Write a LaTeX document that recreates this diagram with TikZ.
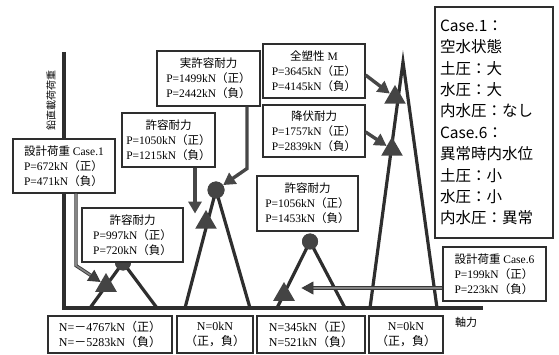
\documentclass[tikz,border=0pt]{standalone}
\usepackage{fontspec}
\setmainfont{Liberation Serif}
\newfontfamily\jp{Noto Sans CJK JP}
\newcommand\zj[1]{{\jp #1}}
\usetikzlibrary{shapes.geometric,arrows.meta}
\definecolor{ink}{HTML}{2E2E2E}
\definecolor{mark}{HTML}{444444}
\begin{document}
\begin{tikzpicture}[x=1pt,y=-1pt,
  box/.style={draw=ink,line width=1.1pt,fill=white,inner sep=1pt,
    font=\fontsize{11.5}{15}\selectfont,align=center},
  nbox/.style={box,font=\fontsize{12}{15.5}\selectfont},
  axis/.style={draw=ink,line width=4pt},
  peak/.style={draw=ink,line width=3.2pt},
  tri/.style={regular polygon,regular polygon sides=3,fill=mark,draw=none,
    minimum size=25pt,inner sep=0pt},
  dot/.style={circle,fill=mark,draw=none,inner sep=0pt,minimum size=16pt},
  arr/.style={draw=black!72,line width=3.4pt,
    -{Triangle[length=12pt,width=13pt]}},
  darr/.style={draw=black!78,line width=0.9pt,double=black!48,double distance=1.6pt,
    -{Triangle[length=12pt,width=13pt,fill=black!75]}}
]
\useasboundingbox (0,0) rectangle (559,355);

% axes
\coordinate (o) at (64,308);
\coordinate (ytop) at (64,52);
\coordinate (xend) at (483,308);
\draw[axis] (ytop) -- (o) -- (xend);
\node[rotate=90,font=\jp\fontsize{10}{12}\selectfont,inner sep=0pt] (ylab) at (51,101) {鉛直載荷荷重};
\node[font=\jp\fontsize{11}{13}\selectfont,inner sep=0pt] (xlab) at (466,322) {軸力};

% peaks
\coordinate (p1l) at (90,308);  \coordinate (p1r) at (157,308);
\coordinate (p2l) at (185,308); \coordinate (p2r) at (250,308);
\coordinate (p3l) at (277,308); \coordinate (p3r) at (345,308);
\coordinate (p4l) at (370,308); \coordinate (p4r) at (437,308);
\coordinate (a4) at (403,62);
\node[dot,minimum size=16pt] (c1) at (123,262.5) {};
\node[dot,minimum size=17pt] (c2) at (216,190) {};
\node[dot,minimum size=16pt] (c3) at (310,241.5) {};
\draw[peak] (p1l) -- (c1.center) -- (p1r);
\draw[peak] (p2l) -- (c2.center) -- (p2r);
\draw[peak] (p3l) -- (c3.center) -- (p3r);
\draw[peak,line join=miter] (p4l) -- (a4) -- (p4r);
\node[dot,minimum size=16pt] at (c1) {};
\node[dot,minimum size=17pt] at (c2) {};
\node[dot,minimum size=16pt] at (c3) {};

% triangle markers
\node[tri] (t1) at (106,285.5) {};
\node[tri] (t2) at (206,222.5) {};
\node[tri] (t3) at (284,294.5) {};
\node[tri] (t4) at (395,97.5) {};
\node[tri] (t5) at (392,149.5) {};

% boxes
\node[box,align=left,minimum width=102pt,minimum height=54pt] (b1) at (64,166)
  {\zj{設計荷重} Case.1\\P=672kN\zj{（正）}\\P=471kN\zj{（負）}};
\node[box,minimum width=101pt,minimum height=54pt] (b2) at (132.5,235)
  {\zj{許容耐力}\\P=997kN\zj{（正）}\\P=720kN\zj{（負）}};
\node[box,minimum width=93pt,minimum height=54pt] (b3) at (168.5,140)
  {\zj{許容耐力}\\P=1050kN\zj{（正）}\\P=1215kN\zj{（負）}};
\node[box,minimum width=103pt,minimum height=55pt] (b4) at (208.5,78.5)
  {\zj{実許容耐力}\\P=1499kN\zj{（正）}\\P=2442kN\zj{（負）}};
\node[box,minimum width=102pt,minimum height=54pt] (b5) at (314,71)
  {\zj{全塑性} M\\P=3645kN\zj{（正）}\\P=4145kN\zj{（負）}};
\node[box,minimum width=102pt,minimum height=52pt] (b6) at (314,131)
  {\zj{降伏耐力}\\P=1757kN\zj{（正）}\\P=2839kN\zj{（負）}};
\node[box,minimum width=101pt,minimum height=55pt] (b7) at (307.5,203.5)
  {\zj{許容耐力}\\P=1056kN\zj{（正）}\\P=1453kN\zj{（負）}};
\node[box,align=left,minimum width=103pt,minimum height=54pt] (b8) at (494.5,274)
  {\zj{設計荷重} Case.6\\P=199kN\zj{（正）}\\P=223kN\zj{（負）}};

% legend
\node[box,align=left,minimum width=118pt,minimum height=231pt,text width=108pt,
  font=\jp\fontsize{15.5}{21.4}\selectfont] (leg) at (494,122.5)
  {Case.1：\\空水状態\\土圧：大\\水圧：大\\内水圧：なし\\Case.6：\\異常時内水位\\土圧：小\\水圧：小\\内水圧：異常};

% bottom boxes
\node[nbox,minimum width=124pt,minimum height=37pt] (n1) at (110,334.5)
  {N=\zj{－}4767kN\zj{（正）}\\N=\zj{－}5283kN\zj{（負）}};
\node[nbox,minimum width=76pt,minimum height=37pt] (n2) at (215,334.5)
  {N=0kN\\\zj{（正，負）}};
\node[nbox,minimum width=108pt,minimum height=37pt] (n3) at (311,334.5)
  {N=345kN\zj{（正）}\\N=521kN\zj{（負）}};
\node[nbox,minimum width=74pt,minimum height=37pt] (n4) at (406,334.5)
  {N=0kN\\\zj{（正，負）}};

% arrows
\draw[darr] ([xshift=12pt]b1.south) -- ++(0,72) -- (t1);
\draw[arr] ([xshift=26.5pt]b3.south) -- ++(0,46);
\draw[arr] ([xshift=38.5pt]b4.south) -- ++(0,62) -- (c2);
\draw[arr] ([yshift=-4pt]b5.east) -- (t4);
\draw[arr] ([yshift=-1pt]b6.east) -- (t5);
\draw[darr] ([yshift=-14pt]b8.west) -- ++(-141,0);
\end{tikzpicture}
\end{document}
